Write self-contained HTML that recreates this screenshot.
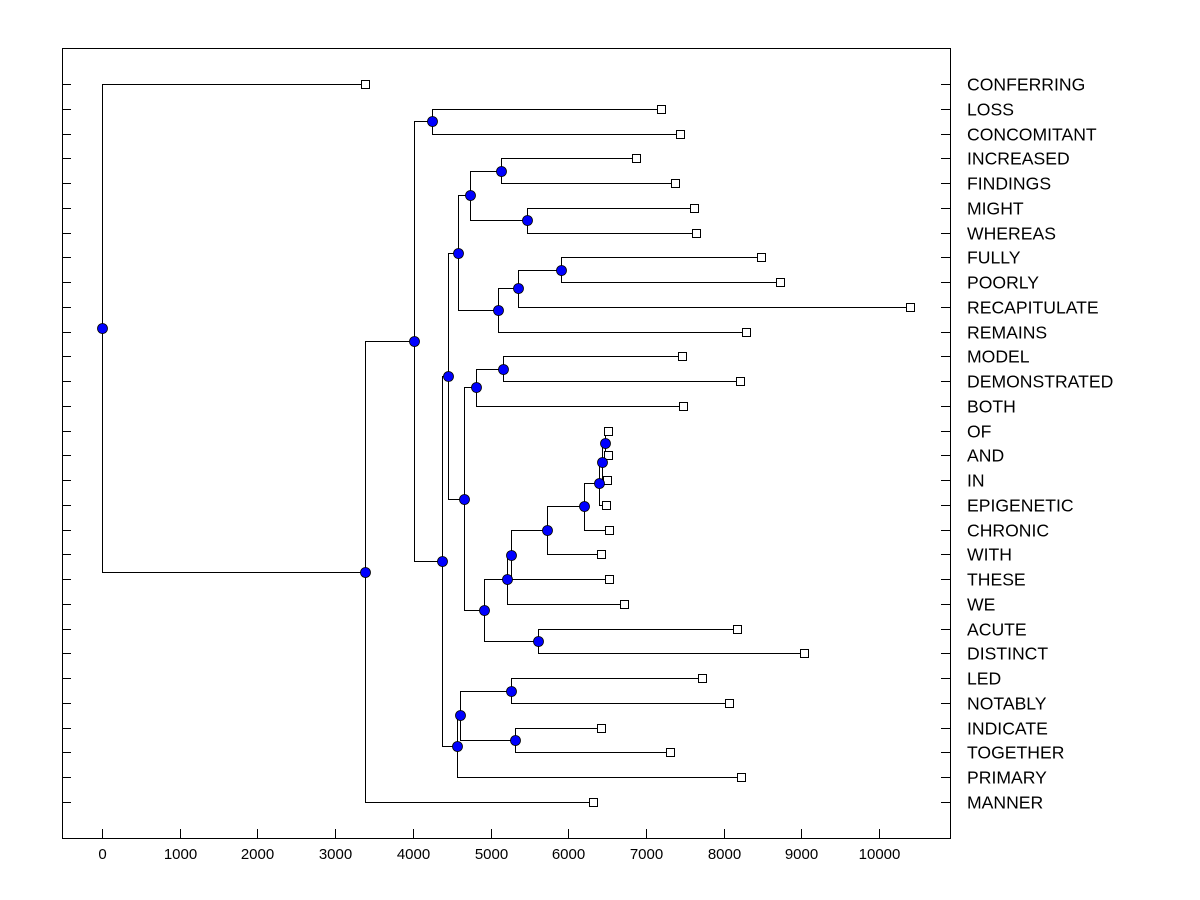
<!DOCTYPE html>
<html><head><meta charset="utf-8"><style>
body{margin:0;background:#fff;}
svg{display:block;font-family:"Liberation Sans",Arial,sans-serif;}
</style></head><body>
<svg id="chart" width="1200" height="900"></svg>
<script>
const leafNames=["CONFERRING","LOSS","CONCOMITANT","INCREASED","FINDINGS","MIGHT","WHEREAS","FULLY","POORLY","RECAPITULATE","REMAINS","MODEL","DEMONSTRATED","BOTH","OF","AND","IN","EPIGENETIC","CHRONIC","WITH","THESE","WE","ACUTE","DISTINCT","LED","NOTABLY","INDICATE","TOGETHER","PRIMARY","MANNER"];
const leafValues=[3385,7194,7439,6873,7375,7619,7645,8481,8726,10399,8288,7465,8211,7477,6512,6512,6499,6486,6525,6422,6525,6718,8172,9035,7722,8069,6422,7310,8224,6319];
// merges: children reference "L#" leaf or "M#" merge
const mergeLeft =["L1","L3","L5","M1","L7","M4","M5","M3","L11","M8","L14","M10","M11","M12","M13","M14","M15","L22","M16","M9","M7","L24","L26","M21","M23","M20","M0","M26","L0"];
const mergeRight=["L2","L4","L6","M2","L8","L9","L10","M6","L12","L13","L15","L16","L17","L18","L19","L20","L21","L23","M17","M18","M19","L25","L27","M22","L28","M24","M25","L29","M27"];
const mergeHeight=[4247,5135,5470,4736,5907,5354,5097,4582,5161,4813,6474,6435,6396,6203,5727,5264,5212,5611,4917,4659,4453,5264,5315,4608,4570,4376,4015,3385,0];
</script>
<script>
const NS="http://www.w3.org/2000/svg";
const svg=document.getElementById('chart');
const X0=62,X1=950,Y0=48,Y1=838;
const xs=v=>102+v*0.0777;
const rowY=i=>84+i*(802-84)/(leafNames.length-1);
function mk(tag,attrs,parent){const e=document.createElementNS(NS,tag);for(const k in attrs)e.setAttribute(k,attrs[k]);(parent||svg).appendChild(e);return e;}
const frame=mk('rect',{x:X0+.5,y:Y0+.5,width:X1-X0,height:Y1-Y0,fill:'none',stroke:'#000','stroke-width':1});


const xt=[0,1000,2000,3000,4000,5000,6000,7000,8000,9000,10000];
xt.forEach(t=>{const x=Math.round(xs(t))+.5;
 const l=mk('line',{x1:x,x2:x,y1:Y1,y2:Y1-9,stroke:'#000'});
 
 
 const tx=mk('text',{x:x,y:859,'text-anchor':'middle','font-size':15,fill:'#000'});tx.textContent=t;
 
 });
leafNames.forEach((n,i)=>{const y=Math.round(rowY(i))+.5;
 const a=mk('line',{x1:X0,x2:X0+9,y1:y,y2:y,stroke:'#000'});
 
 
 const b=mk('line',{x1:X1-9,x2:X1,y1:y,y2:y,stroke:'#000'});
 
 
 const t=mk('text',{x:967,y:y+6,'font-size':17.6,fill:'#000'});t.textContent=n;
 
 });
const pos={};
leafNames.forEach((n,i)=>{pos['L'+i]={x:xs(leafValues[i]),y:rowY(i)};});
for(let m=0;m<mergeHeight.length;m++){const a=pos[mergeLeft[m]],b=pos[mergeRight[m]];pos['M'+m]={x:xs(mergeHeight[m]),y:(a.y+b.y)/2};}
const lines=mk('g',{stroke:'#000','stroke-width':1,fill:'none'});
for(let m=0;m<mergeHeight.length;m++){const p=pos['M'+m],a=pos[mergeLeft[m]],b=pos[mergeRight[m]];
 const px=Math.round(p.x)+.5;
 const path=mk('path',{d:`M${Math.round(a.x)+.5},${Math.round(a.y)+.5}H${px}V${Math.round(b.y)+.5}H${Math.round(b.x)+.5}`},lines);
 
 }
leafNames.forEach((n,i)=>{const p=pos['L'+i];
 const r=mk('rect',{x:Math.round(p.x)-3.5,y:Math.round(p.y)-3.5,width:8,height:8,fill:'#fff',stroke:'#000'});
 
 });
for(let m=0;m<mergeHeight.length;m++){const p=pos['M'+m];
 const c=mk('circle',{cx:Math.round(p.x)+.5,cy:Math.round(p.y)+.5,r:5,fill:'#0000ff',stroke:'#000','stroke-width':0.8});
 
 }
</script>
</body></html>
